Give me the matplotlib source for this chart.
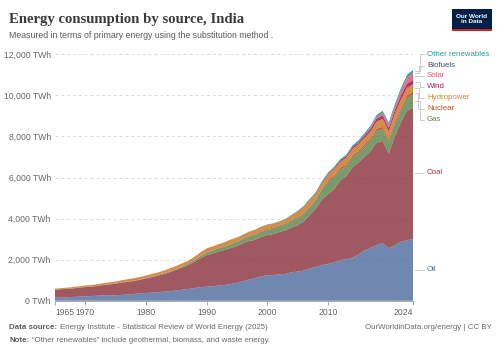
import numpy as np
import matplotlib
matplotlib.use("Agg")
import matplotlib.pyplot as plt
from matplotlib.patches import Rectangle
from matplotlib.transforms import offset_copy

plt.rcParams['font.family'] = ['Liberation Sans', 'DejaVu Sans']

years = list(range(1965, 2025))

oil = [150, 160, 170, 185, 200, 215, 230, 245, 260, 260,
       270, 285, 305, 330, 360, 380, 395, 420, 445, 470,
       505, 540, 575, 615, 660, 690, 705, 740, 770, 820,
       870, 960, 1030, 1100, 1190, 1240, 1250, 1290, 1310, 1390,
       1420, 1470, 1570, 1650, 1740, 1790, 1870, 1980, 2020, 2100,
       2250, 2450, 2580, 2700, 2800, 2560, 2700, 2880, 2950, 3000]
coal = [390, 400, 410, 420, 435, 450, 450, 480, 500, 530,
        560, 600, 620, 630, 660, 700, 760, 810, 860, 930,
        1000, 1080, 1170, 1280, 1420, 1530, 1600, 1660, 1710, 1750,
        1790, 1840, 1880, 1870, 1920, 1960, 2000, 2060, 2120, 2190,
        2260, 2400, 2600, 2850, 3200, 3400, 3550, 3880, 4050, 4400,
        4470, 4560, 4700, 5000, 4980, 4600, 5300, 5800, 6300, 6400]
gas = [5, 5, 5, 5, 6, 6, 7, 7, 8, 9,
       10, 11, 12, 13, 14, 15, 18, 25, 30, 35,
       45, 55, 70, 85, 100, 120, 140, 155, 170, 190,
       200, 215, 230, 240, 245, 250, 260, 270, 300, 310,
       350, 360, 380, 400, 500, 610, 590, 540, 470, 470,
       480, 510, 540, 570, 580, 580, 600, 560, 620, 660]
nuclear = [0, 0, 0, 0, 3, 6, 3, 10, 8, 6,
           7, 8, 7, 7, 8, 8, 8, 6, 9, 11,
           13, 13, 14, 16, 13, 16, 15, 18, 15, 14,
           20, 22, 26, 31, 33, 45, 50, 50, 45, 45,
           45, 45, 42, 38, 42, 65, 80, 80, 85, 90,
           95, 95, 95, 100, 110, 110, 115, 115, 120, 125]
hydro = [45, 50, 55, 60, 65, 70, 75, 70, 80, 85,
         90, 95, 105, 120, 115, 125, 130, 120, 135, 140,
         135, 140, 130, 150, 170, 195, 190, 185, 190, 210,
         195, 180, 190, 210, 210, 200, 190, 175, 190, 220,
         260, 290, 310, 280, 260, 275, 320, 280, 330, 330,
         330, 320, 330, 350, 400, 405, 400, 440, 375, 360]
wind = [0] * 30 + [2, 2, 2, 3, 3, 4, 4, 5, 5, 8,
                  15, 20, 28, 30, 40, 50, 55, 65, 80, 85,
                  85, 110, 130, 150, 160, 160, 170, 190, 200, 210]
solar = [0] * 45 + [0, 1, 3, 8, 12, 18, 30, 55, 80, 115,
                    140, 170, 240, 290, 340]
biofuels = [0] * 40 + [1, 1, 1, 1, 2, 2, 2, 3, 3, 4,
                       4, 5, 5, 6, 8, 8, 10, 15, 20, 25]
other_ren = [0] * 25 + [2, 2, 3, 4, 5, 6, 8, 10, 12, 14,
                        15, 17, 20, 22, 25, 28, 32, 38, 42, 45,
                        48, 55, 60, 65, 70, 75, 80, 85, 90, 95,
                        100, 105, 110, 115, 120]

names = ["Oil", "Coal", "Gas", "Nuclear", "Hydropower", "Wind", "Solar",
         "Biofuels", "Other renewables"]
series = [oil, coal, gas, nuclear, hydro, wind, solar, biofuels, other_ren]
colors = ["#4C6A9C", "#883039", "#578145", "#B13507", "#C8711A", "#970046",
          "#DB4F6B", "#2E4A6E", "#00847E"]
text_colors = ["#4C6A9C", "#A8303F", "#5E8A4C", "#C0521E", "#D4862B",
               "#9E2554", "#E0627A", "#3E5069", "#2A9A8F"]
# label heights on the right (TWh), spread so they don't overlap
label_y = [1500, 6230, 8820, 9350, 9890, 10430, 10970, 11450, 12000]

fig = plt.figure(figsize=(5.0, 3.53), dpi=100)
ax = fig.add_axes([0.11, 0.148, 0.716, 0.698])

ax.stackplot(years, *series, colors=colors, alpha=0.8, linewidth=0)

ax.set_xlim(1965, 2024)
ax.set_ylim(0, 12000)
yt = [0, 2000, 4000, 6000, 8000, 10000, 12000]
ax.set_yticks(yt)
ax.set_yticklabels([f"{v:,} TWh" for v in yt])
ax.yaxis.grid(True, color="#dddddd", linestyle=(0, (3, 3)), linewidth=0.7)
ax.set_axisbelow(True)
ax.tick_params(axis='y', length=0, labelsize=6.2, labelcolor="#666666", pad=3)
xt = [1965, 1970, 1980, 1990, 2000, 2010, 2024]
ax.set_xticks(xt)
ax.set_xticklabels([str(v) for v in xt])
ax.tick_params(axis='x', length=3, width=0.6, color="#999999", labelsize=6.2,
               labelcolor="#666666", pad=2)
xl = ax.get_xticklabels()
xl[0].set_horizontalalignment('left')
xl[-1].set_horizontalalignment('right')
for s in ["top", "right", "left"]:
    ax.spines[s].set_visible(False)
ax.spines["bottom"].set_color("#999999")
ax.spines["bottom"].set_linewidth(0.6)

# right-hand labels with connector lines
cum = np.cumsum([s[-1] for s in series])
mids = cum - np.array([s[-1] for s in series]) / 2
for i, (nm, ym, yl) in enumerate(zip(names, mids, label_y)):
    if abs(ym - yl) < 120:
        ax.plot([2024.4, 2025.8], [yl, yl], color="#c4c4c4", lw=0.6, clip_on=False)
    else:
        xe = 2024.9 + 0.15 * (i % 3)
        ax.plot([2024.4, xe, xe, 2025.8], [ym, ym, yl, yl], color="#c4c4c4",
                lw=0.6, clip_on=False)
    ax.text(2026.3, yl, nm, color=text_colors[i], fontsize=5.7, va="center",
            ha="left", clip_on=False)

fig.text(0.018, 0.935, "Energy consumption by source, India", fontsize=10.6,
         fontweight="bold", family="Liberation Serif", color="#3a3a3a", va="baseline")
fig.text(0.018, 0.892, "Measured in terms of primary energy using the substitution method .",
         fontsize=6.3, color="#5b5b5b", va="baseline")

# logo
fig.patches.append(Rectangle((0.904, 0.917), 0.08, 0.058, transform=fig.transFigure,
                             facecolor="#002147", edgecolor="none"))
fig.patches.append(Rectangle((0.904, 0.911), 0.08, 0.007, transform=fig.transFigure,
                             facecolor="#CE261E", edgecolor="none"))
fig.text(0.944, 0.946, "Our World\nin Data", color="white", fontsize=4.6,
         fontweight="bold", ha="center", va="center", linespacing=1.0)


def label_pair(y, bold, rest):
    t = fig.text(0.018, y, bold, fontsize=5.7, fontweight="bold",
                 color="#5b5b5b", va="baseline")
    fig.canvas.draw()
    x1 = fig.transFigure.inverted().transform(
        t.get_window_extent().get_points())[1][0]
    fig.text(x1 + 0.006, y, rest, fontsize=5.7, color="#6b6b6b", va="baseline")


label_pair(0.068, "Data source:",
           "Energy Institute - Statistical Review of World Energy (2025)")
label_pair(0.030, "Note:",
           "\u201cOther renewables\u201d include geothermal, biomass, and waste energy.")
fig.text(0.984, 0.068, "OurWorldinData.org/energy | CC BY", fontsize=5.7,
         color="#6b6b6b", va="baseline", ha="right")

fig.savefig("out.png", dpi=100)
